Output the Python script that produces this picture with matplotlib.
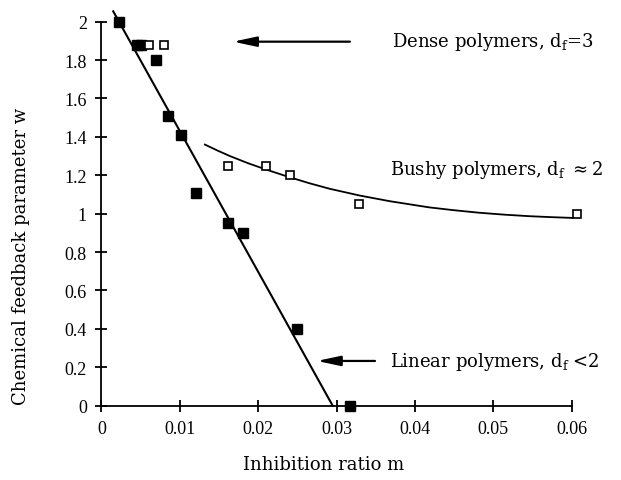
import numpy as np
import matplotlib
matplotlib.use("Agg")
import matplotlib.pyplot as plt

plt.rcParams['mathtext.fontset'] = 'dejavuserif'

# linear polymers (filled squares)
lin_m = [0.0022, 0.0045, 0.0051, 0.0070, 0.0085, 0.0101, 0.0120, 0.0161, 0.0180, 0.0249, 0.0317]
lin_w = [2.00, 1.88, 1.88, 1.80, 1.51, 1.41, 1.11, 0.95, 0.90, 0.40, 0.00]

# bushy / dense polymers (open squares)
bushy_m = [0.0061, 0.0080, 0.0161, 0.0210, 0.0240, 0.0328, 0.0607]
bushy_w = [1.88, 1.88, 1.25, 1.25, 1.20, 1.05, 1.00]

# fitted lines
fit_lin_m = [0.0015, 0.0295]
fit_lin_w = [2.054, 0.0]
fit_bushy_m = [0.0132, 0.0148, 0.0164, 0.0187, 0.0210, 0.0240, 0.0265, 0.0291, 0.0329,
               0.0368, 0.0418, 0.0450, 0.0482, 0.0514, 0.0546, 0.0574, 0.0601]
fit_bushy_w = [1.360, 1.329, 1.300, 1.263, 1.230, 1.190, 1.159, 1.130, 1.095,
               1.065, 1.033, 1.018, 1.005, 0.995, 0.987, 0.982, 0.978]

xticks = [0, 0.01, 0.02, 0.03, 0.04, 0.05, 0.06]
xticklabels = ['0', '0.01', '0.02', '0.03', '0.04', '0.05', '0.06']
yticks = [0, 0.2, 0.4, 0.6, 0.8, 1.0, 1.2, 1.4, 1.6, 1.8, 2.0]
yticklabels = ['0', '0.2', '0.4', '0.6', '0.8', '1', '1.2', '1.4', '1.6', '1.8', '2']

fig = plt.figure(figsize=(6.21, 4.81), dpi=100)
ax = fig.add_axes([0.1634, 0.1545, 0.9206 - 0.1634, 0.9528 - 0.1545])

ax.plot(fit_lin_m, fit_lin_w, color='k', lw=1.5, clip_on=False)
ax.plot(fit_bushy_m, fit_bushy_w, color='k', lw=1.3, clip_on=False)
ax.plot(lin_m, lin_w, 's', color='k', ms=6.5, clip_on=False, zorder=3)
ax.plot(bushy_m, bushy_w, 's', mfc='white', mec='k', mew=1.2, ms=6, clip_on=False, zorder=3)

ax.set_xlim(0, 0.06)
ax.set_ylim(0, 2)
for s in ['top', 'right']:
    ax.spines[s].set_visible(False)
for s in ['left', 'bottom']:
    ax.spines[s].set_linewidth(1.3)

ax.set_xticks(xticks)
ax.set_xticklabels(xticklabels, fontfamily='Liberation Serif', fontsize=13)
ax.set_yticks(yticks)
ax.set_yticklabels(yticklabels, fontfamily='Liberation Serif', fontsize=13)
ax.tick_params(axis='x', direction='inout', length=9, width=1.3, pad=6)
ax.tick_params(axis='y', direction='inout', length=9, width=1.3, pad=6)

ax.set_xlabel('Inhibition ratio m', fontfamily='DejaVu Serif', fontsize=13)
ax.xaxis.set_label_coords(0.473, -0.128)
ax.set_ylabel('Chemical feedback parameter w', fontfamily='DejaVu Serif', fontsize=13)
ax.yaxis.set_label_coords(-0.152, 0.39)

arrow = dict(arrowstyle='-|>,head_length=1.4,head_width=0.3', lw=1.6, color='k', shrinkA=0, shrinkB=0)
ax.annotate('', xy=(0.0168, 1.896), xytext=(0.0317, 1.896), arrowprops=arrow, annotation_clip=False)
ax.annotate('', xy=(0.0275, 0.233), xytext=(0.0349, 0.233), arrowprops=arrow, annotation_clip=False)

tkw = dict(fontfamily='DejaVu Serif', fontsize=13, va='center', ha='left')
ax.text(0.0371, 1.90, r'Dense polymers, d$_\mathrm{f}$=3', **tkw)
ax.text(0.0368, 1.234, r'Bushy polymers, d$_\mathrm{f}$ $\approx$2', **tkw)
ax.text(0.0368, 0.233, r'Linear polymers, d$_\mathrm{f}$ <2', **tkw)

fig.savefig('out.png', dpi=100)
